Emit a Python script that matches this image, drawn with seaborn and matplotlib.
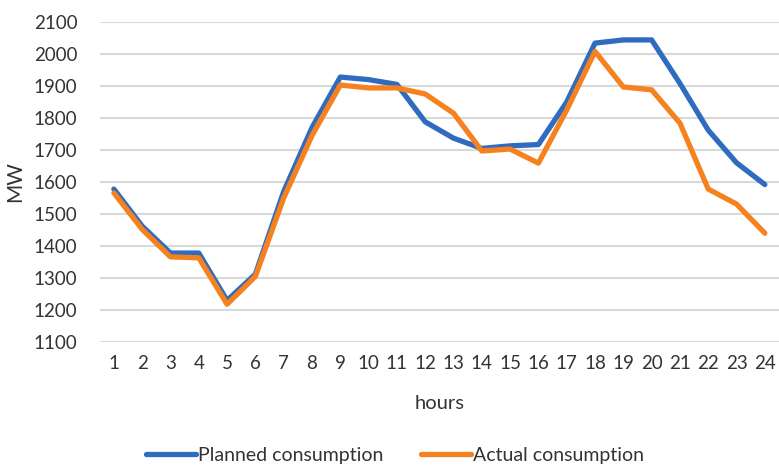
import numpy as np
import pandas as pd
import seaborn as sns
import matplotlib.pyplot as plt

hours = list(range(1, 25))
planned = [1578, 1462, 1378, 1378, 1230, 1312, 1570, 1770, 1928, 1920, 1905, 1788,
           1737, 1705, 1713, 1717, 1850, 2034, 2044, 2044, 1908, 1762, 1660, 1592]
actual = [1566, 1452, 1366, 1363, 1218, 1305, 1550, 1745, 1903, 1894, 1894, 1875,
          1815, 1697, 1703, 1659, 1825, 2008, 1897, 1888, 1784, 1578, 1531, 1440]
series = ["Planned consumption", "Actual consumption"]
colors = ["#2F6CC0", "#F5821F"]

df = pd.DataFrame({
    "hours": hours * 2,
    "MW": planned + actual,
    "series": [series[0]] * 24 + [series[1]] * 24,
})

sns.set_theme(style="white")
plt.rcParams['font.family'] = ['Lato', 'DejaVu Sans']

fig = plt.figure(figsize=(7.79, 4.72), dpi=100)
ax = fig.add_axes([0.128, 0.2754, 0.872, 0.678])

sns.lineplot(data=df, x="hours", y="MW", hue="series", palette=colors,
             linewidth=3.8, ax=ax, legend=False)

ax.set_xlim(0.5, 24.5)
ax.set_ylim(1100, 2100)
ax.set_xticks(hours)
ax.set_yticks(range(1100, 2101, 100))
ax.yaxis.grid(True, color="#D9D9D9", linewidth=1.5)
ax.set_axisbelow(True)
for s in ax.spines.values():
    s.set_visible(False)
ax.tick_params(axis="both", length=0, labelsize=13.5, colors="#333333")
ax.tick_params(axis="y", pad=16)
ax.tick_params(axis="x", pad=9)
ax.set_xlabel("hours", fontsize=14.5, color="#333333", labelpad=17)
ax.set_ylabel("MW", fontsize=15, color="#333333", labelpad=6)

handles = [plt.Line2D([], [], color=c, linewidth=3.8) for c in colors]
fig.legend(handles, series, loc="lower center", bbox_to_anchor=(0.507, -0.02),
           ncol=2, frameon=False, fontsize=14, handlelength=2.6,
           handletextpad=0.1, columnspacing=1.9, labelcolor="#333333")

fig.savefig("out.png", dpi=100)
